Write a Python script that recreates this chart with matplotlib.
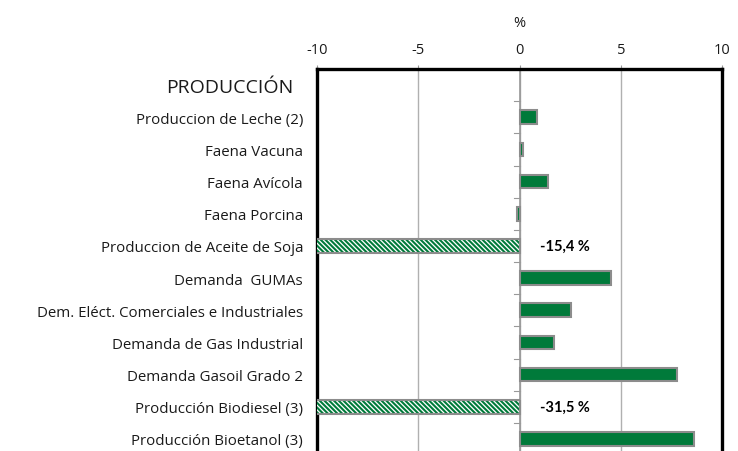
import matplotlib
matplotlib.use("Agg")
import matplotlib.pyplot as plt
import numpy as np

header = "PRODUCCIÓN"
categories = ["Produccion de Leche (2)", "Faena Vacuna", "Faena Avícola", "Faena Porcina",
              "Produccion de Aceite de Soja", "Demanda  GUMAs",
              "Dem. Eléct. Comerciales e Industriales", "Demanda de Gas Industrial",
              "Demanda Gasoil Grado 2", "Producción Biodiesel (3)", "Producción Bioetanol (3)"]
values = [0.85, 0.15, 1.42, -0.14, -15.4, 4.54, 2.54, 1.7, 7.8, -31.5, 8.6]
out_of_range = [False, False, False, False, True, False, False, False, False, True, False]
range_labels = ["-15,4 %", "-31,5 %"]
xticks = [-10, -5, 0, 5, 10]

plt.rcParams['font.family'] = ['Open Sans', 'DejaVu Sans']
plt.rcParams['hatch.linewidth'] = 1.5

fig = plt.figure(figsize=(7.38, 4.52), dpi=100)
ax = fig.add_axes([317/738, (452-456)/452, (722-317)/738, 386/452])

green = "#007A3A"
edge = "#8c8c8c"
txt = "#1a1a1a"
ypos = np.arange(1, len(categories) + 1)
h = 0.42
for y, v, o in zip(ypos, values, out_of_range):
    if o:
        ax.barh(y, v, height=h, color="white", hatch="\\\\\\\\\\\\\\", edgecolor=green, linewidth=0, zorder=3)
        ax.barh(y, v, height=h, fill=False, edgecolor=edge, linewidth=1.5, zorder=4)
    else:
        ax.barh(y, v, height=h, color=green, edgecolor=edge, linewidth=1.5, zorder=3)

j = 0
for y, o in zip(ypos, out_of_range):
    if o:
        ax.text(1.0, y, range_labels[j], fontsize=10.5, fontweight='bold', va='center', ha='left',
                family=['Lato', 'DejaVu Sans'], zorder=5)
        j += 1

ax.set_xlim(-10, 10)
ax.set_ylim(len(categories) + 0.5, -0.5)
ax.xaxis.tick_top()
ax.xaxis.set_label_position('top')
ax.set_xticks(xticks)
ax.set_xticklabels([str(t) for t in xticks], fontsize=10.5, color=txt)
ax.set_xlabel("%", fontsize=10.5, color=txt, labelpad=11)
ax.tick_params(axis='x', length=3, width=0.8, color='#999999', pad=6)

ax.set_yticks(np.arange(0, len(categories) + 1))
labels = [header] + categories
ax.set_yticklabels(labels, fontsize=10.8, color=txt)
hl = ax.get_yticklabels()[0]
hl.set_fontsize(14)
ax.tick_params(axis='y', length=0, pad=10)
hl.set_x(-0.025)

# minor ticks on zero line between rows
for yb in np.arange(0.5, len(categories) + 0.5, 1.0):
    ax.plot([-0.25, 0], [yb, yb], color='#999999', lw=0.8, zorder=2, clip_on=False)

for xg in [-5, 0, 5]:
    ax.axvline(xg, color='#b0b0b0', lw=1.0, zorder=1)
ax.axvline(0, color='#999999', lw=1.2, zorder=2)

for s in ['left', 'right', 'top']:
    ax.spines[s].set_linewidth(2.4)
    ax.spines[s].set_color('black')
ax.spines['bottom'].set_visible(False)

fig.savefig("out.png", dpi=100)
